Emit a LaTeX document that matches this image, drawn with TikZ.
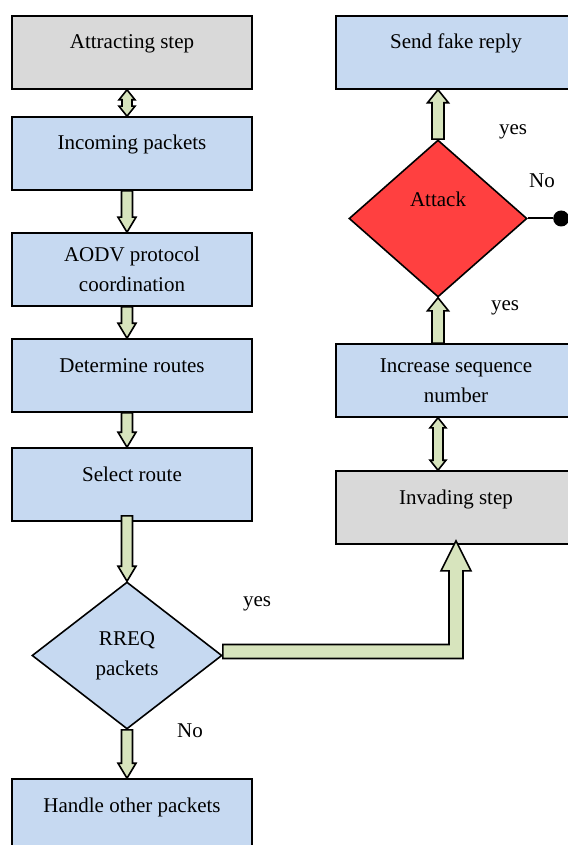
\documentclass[tikz,border=0pt]{standalone}
\usepackage{fontspec}
\setmainfont{Liberation Serif}
\usetikzlibrary{shapes.geometric, positioning, calc}

\definecolor{boxblue}{HTML}{C6D9F1}
\definecolor{boxgray}{HTML}{D9D9D9}
\definecolor{attackred}{HTML}{FF4040}
\definecolor{pipegreen}{HTML}{D7E4BD}

\begin{document}
\begin{tikzpicture}
  [
  font=\fontsize{10.5}{15}\selectfont,
  % block
  block/.style = {rectangle,
    draw, line width=0.8pt,
    fill=boxblue,
    minimum width=120pt,
    minimum height=36.5pt,
    align=center},
  % one line of text sits high in the block
  oneline/.style = {text height=7pt, text depth=10.5pt},
  % stage
  stage/.style = {block, oneline, fill=boxgray},
  % choice
  choice/.style = {diamond,
    draw, line width=0.8pt,
    inner sep=0pt, align=center},
  % note
  note/.style = {inner sep=0pt},
  % fat arrow: shaft half width, head half width, head length
  fat/.style n args = {3}{draw, fill=pipegreen, line width=0.8pt,
    line join=miter,
    to path={let \p1=(\tikztostart), \p2=(\tikztotarget),
      \n1={sign(\y1-\y2)} in
      (\x1-#1,\y1) -- (\x1-#1,\y2+\n1*#3) -- (\x1-#2,\y2+\n1*#3)
      -- (\x1,\y2) -- (\x1+#2,\y2+\n1*#3) -- (\x1+#1,\y2+\n1*#3)
      -- (\x1+#1,\y1) -- cycle}},
  % fat arrow with two heads
  both/.style n args = {3}{draw, fill=pipegreen, line width=0.8pt,
    line join=miter,
    to path={let \p1=(\tikztostart), \p2=(\tikztotarget),
      \n1={sign(\y1-\y2)} in
      (\x1,\y1) -- (\x1+#2,\y1-\n1*#3) -- (\x1+#1,\y1-\n1*#3)
      -- (\x1+#1,\y2+\n1*#3) -- (\x1+#2,\y2+\n1*#3) -- (\x1,\y2)
      -- (\x1-#2,\y2+\n1*#3) -- (\x1-#1,\y2+\n1*#3)
      -- (\x1-#1,\y1-\n1*#3) -- (\x1-#2,\y1-\n1*#3) -- cycle}},
  % fat arrow going right, then up
  elbow/.style n args = {3}{draw, fill=pipegreen, line width=0.8pt,
    line join=miter,
    to path={let \p1=(\tikztostart), \p2=(\tikztotarget) in
      (\x1,\y1+#1) -- (\x2-#1,\y1+#1) -- (\x2-#1,\y2-#3)
      -- (\x2-#2,\y2-#3) -- (\x2,\y2) -- (\x2+#2,\y2-#3)
      -- (\x2+#1,\y2-#3) -- (\x2+#1,\y1-#1) -- (\x1,\y1-#1) -- cycle}},
  ]

  \useasboundingbox (0,0) rectangle (283.5pt,-422.5pt);

  % left column
  \node [stage] (attract) at (66pt,-26.25pt) {Attracting step};
  \node [block, oneline, below=13.2pt of attract] (incoming) {Incoming packets};
  \node [block, below=20.7pt of incoming] (aodv) {AODV protocol\\coordination};
  \node [block, oneline, below=15.7pt of aodv] (routes) {Determine routes};
  \node [block, oneline, below=17.2pt of routes] (select) {Select route};
  \node [choice, fill=boxblue, minimum width=95pt, minimum height=73.5pt,
    below=29.7pt of select, xshift=-2.5pt] (rreq) {RREQ\\packets};
  \node [block, oneline, below=24.2pt of rreq, xshift=2.5pt] (handle) {Handle other packets};

  % right column
  \node [block, oneline] (fake) at (228pt,-26.25pt) {Send fake reply};
  \node [choice, fill=attackred, minimum width=89pt, minimum height=78.5pt,
    text height=7pt, text depth=19.5pt,
    below=24.7pt of fake, xshift=-9pt] (attack) {Attack};
  \node [block, below=22.7pt of attack, xshift=9pt] (increase) {Increase sequence\\number};
  \node [stage, below=26.2pt of increase] (invade) {Invading step};
  \node [circle, fill=black, inner sep=0pt, minimum size=8pt,
    right=12.5pt of attack] (stop) {};

  % labels
  \node [note] (yesfake) at (256.5pt,-66pt) {yes};
  \node [note] (noattack) at (271pt,-90.5pt) {No};
  \node [note] (yesattack) at (252.5pt,-154pt) {yes};
  \node [note] (yesrreq) at (128.5pt,-302pt) {yes};
  \node [note] (norreq) at (95pt,-365.5pt) {No};

  % path
  \path [both={2.5pt}{4pt}{5pt}] (attract.south -| rreq.north) to (incoming.north -| rreq.north);
  \path [fat={2.75pt}{4.5pt}{7.5pt}] (incoming.south -| rreq.north) to (aodv.north -| rreq.north);
  \path [fat={2.75pt}{4.5pt}{7.5pt}] (aodv.south -| rreq.north) to (routes.north -| rreq.north);
  \path [fat={2.75pt}{4.5pt}{7.5pt}] (routes.south -| rreq.north) to (select.north -| rreq.north);
  \path [fat={2.75pt}{4.5pt}{7.5pt}] ([yshift=3pt]select.south -| rreq.north) to (rreq.north);
  \path [fat={2.75pt}{4.5pt}{7.5pt}] (rreq.south) to (handle.north -| rreq.south);
  \path [elbow={3.5pt}{7.5pt}{15pt}] ([yshift=2pt]rreq.east) to ([yshift=2pt]invade.south);
  \path [both={2.5pt}{4pt}{5pt}] (increase.south -| attack.south) to (invade.north -| attack.south);
  \path [fat={3pt}{5.25pt}{6.5pt}] (increase.north -| attack.south) to (attack.south);
  \path [fat={3pt}{5.25pt}{6.5pt}] (attack.north) to (fake.south -| attack.north);
  \draw [line width=1pt] (attack.east) -- (stop);

\end{tikzpicture}
\end{document}
